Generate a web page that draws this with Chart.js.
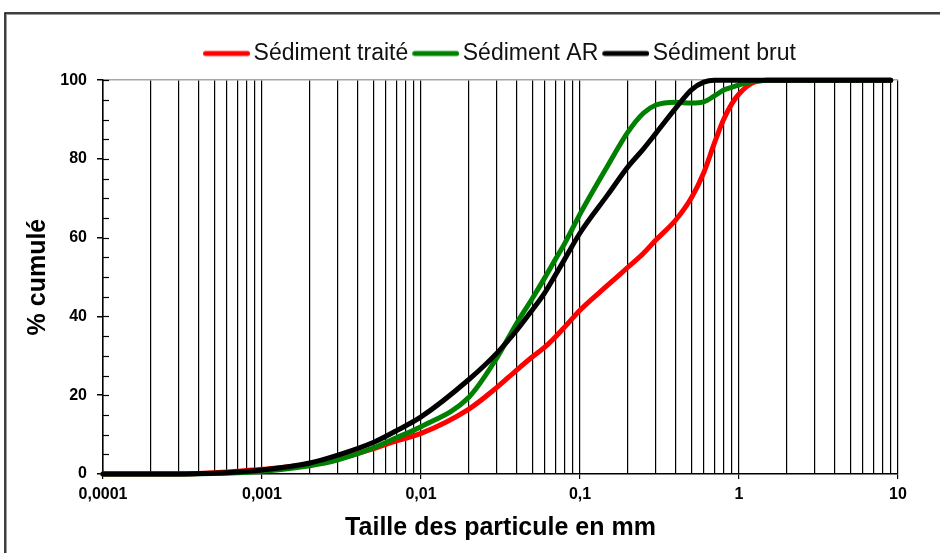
<!DOCTYPE html>
<html>
<head>
<meta charset="utf-8">
<script src="https://cdn.jsdelivr.net/npm/chart.js@4.4.1/dist/chart.umd.min.js"></script>
<style>
  html, body { margin: 0; padding: 0; background: #fff; }
  #wrap { width: 940px; height: 553px; }
</style>
</head>
<body>
<div id="wrap"><canvas id="granulo" width="940" height="553"></canvas></div>
<script>
// particle sizes (mm) and cumulative % for each sediment
const sizes = [0.0001, 0.0002, 0.0003, 0.0005, 0.0007, 0.001, 0.002, 0.003, 0.005, 0.007,
    0.01, 0.02, 0.03, 0.04, 0.05, 0.06, 0.07, 0.08, 0.1, 0.15,
    0.2, 0.25, 0.3, 0.4, 0.5, 0.6, 0.7, 0.8, 0.9, 1,
    1.2, 1.5, 2, 5, 9];
const sedTraite = [0, 0, 0, 0.3, 0.7, 1.2, 2.5, 3.8, 6.4, 8.4,
    10.3, 16.5, 22, 26.4, 29.7, 32.2, 34.8, 37.3, 41.6, 48,
    52.5, 56, 59.4, 64.5, 70, 76.5, 84, 90, 94, 96.5,
    99.2, 100, 100, 100, 100];
const sedAR = [0, 0, 0, 0.1, 0.3, 0.7, 2.1, 3.6, 6.6, 9.2,
    12, 19.5, 29.5, 38.3, 44.5, 49.8, 54.5, 58.5, 66, 78.4,
    86.8, 91.6, 93.7, 94.4, 94.2, 94.5, 96, 97.5, 98.2, 98.8,
    99.6, 100, 100, 100, 100];
const sedBrut = [0, 0, 0, 0.2, 0.5, 1, 2.8, 4.8, 8, 11,
    14.5, 24, 30.7, 36.5, 41.6, 46, 50.5, 54.5, 61.2, 71,
    78, 82.5, 86.5, 92.9, 97.5, 99.5, 100, 100, 100, 100,
    100, 100, 100, 100, 100];

const seriesNames = ['Sédiment traité', 'Sédiment AR', 'Sédiment brut'];
const seriesColors = ['#ff0000', '#008000', '#000000'];

const decades = [0.0001, 0.001, 0.01, 0.1, 1, 10];
const decadeLabels = ['0,0001', '0,001', '0,01', '0,1', '1', '10'];
const yLabelsEvery = 20;
const yStep = 5;

const FONT = "'Liberation Sans', Arial, sans-serif";

function toPoints(ys) {
    return sizes.map((s, i) => ({ x: s, y: ys[i] }));
}

function isDecade(v) {
    const l = Math.log10(v);
    return Math.abs(l - Math.round(l)) < 1e-9;
}

function decadeLabel(v) {
    for (let i = 0; i < decades.length; i++) {
        if (Math.abs(Math.log10(v) - Math.log10(decades[i])) < 1e-9) return decadeLabels[i];
    }
    return '';
}

// legend swatch: a short thick line, shifted right so it sits close to the text
function swatch(color) {
    const c = document.createElement('canvas');
    c.width = 53;
    c.height = 8;
    const g = c.getContext('2d');
    g.strokeStyle = color;
    g.lineWidth = 5;
    g.lineCap = 'round';
    g.beginPath();
    g.moveTo(8.5, 4);
    g.lineTo(50.5, 4);
    g.stroke();
    return c;
}

// outer frame + white background
const framePlugin = {
    id: 'frame',
    beforeDraw(chart) {
        const ctx = chart.ctx;
        ctx.save();
        ctx.fillStyle = '#fff';
        ctx.fillRect(0, 0, chart.width, chart.height);
        ctx.strokeStyle = '#9a9a9a';
        ctx.lineWidth = 1;
        ctx.strokeRect(6.5, 14.5, chart.width + 20, chart.height + 20);
        ctx.strokeStyle = '#000';
        ctx.lineWidth = 1.5;
        ctx.strokeRect(5, 13, chart.width + 20, chart.height + 20);
        ctx.restore();
    }
};

// small ticks on the inner side of the y axis
const innerTicks = {
    id: 'innerTicks',
    afterDatasetsDraw(chart) {
        const ctx = chart.ctx;
        const yScale = chart.scales.y;
        const left = chart.chartArea.left;
        ctx.save();
        ctx.strokeStyle = '#000';
        ctx.lineWidth = 1.2;
        yScale.ticks.forEach(t => {
            if (t.value === 0) return;
            const y = Math.round(yScale.getPixelForValue(t.value)) + 0.5;
            ctx.beginPath();
            ctx.moveTo(left, y);
            ctx.lineTo(left + 6, y);
            ctx.stroke();
        });
        ctx.restore();
    }
};

const ctx = document.getElementById('granulo').getContext('2d');
const granuloChart = new Chart(ctx, {
    type: 'line',
    data: {
        datasets: [
            { label: seriesNames[0], data: toPoints(sedTraite), borderColor: seriesColors[0], backgroundColor: seriesColors[0], pointStyle: swatch(seriesColors[0]), order: 3 },
            { label: seriesNames[1], data: toPoints(sedAR), borderColor: seriesColors[1], backgroundColor: seriesColors[1], pointStyle: swatch(seriesColors[1]), order: 2 },
            { label: seriesNames[2], data: toPoints(sedBrut), borderColor: seriesColors[2], backgroundColor: seriesColors[2], pointStyle: swatch(seriesColors[2]), order: 1 }
        ]
    },
    options: {
        responsive: false,
        animation: false,
        layout: { padding: { left: 10, right: 42, top: 36, bottom: 0 } },
        datasets: {
            line: {
                borderWidth: 5,
                pointRadius: 0,
                pointHoverRadius: 0,
                cubicInterpolationMode: 'monotone',
                borderCapStyle: 'round',
                borderJoinStyle: 'round',
                fill: false,
                clip: false
            }
        },
        scales: {
            x: {
                type: 'logarithmic',
                min: 0.0001,
                max: 10,
                afterBuildTicks(scale) {
                    const ticks = [];
                    for (let e = -4; e <= 0; e++) {
                        for (let m = 1; m <= 9; m++) {
                            ticks.push({ value: m * Math.pow(10, e) });
                        }
                    }
                    ticks.push({ value: 10 });
                    scale.ticks = ticks;
                },
                afterFit(scale) { scale.height = 79; },
                grid: {
                    color: '#000',
                    lineWidth: 1.2,
                    drawTicks: true,
                    tickLength: 5,
                    tickColor: c => (c.tick && isDecade(c.tick.value)) ? '#000' : 'rgba(0,0,0,0)'
                },
                border: { color: '#000', width: 1.5 },
                ticks: {
                    autoSkip: false,
                    maxRotation: 0,
                    padding: 6,
                    color: '#000',
                    font: { family: FONT, size: 16, weight: 'bold' },
                    callback: v => decadeLabel(v)
                },
                title: {
                    display: true,
                    text: 'Taille des particule en mm',
                    color: '#000',
                    font: { family: FONT, size: 25, weight: 'bold' },
                    padding: { top: 0, bottom: 10 }
                }
            },
            y: {
                min: 0,
                max: 100,
                afterFit(scale) { scale.width = 93; },
                grid: {
                    color: c => (c.tick && c.tick.value === 100) ? '#a6a6a6' : 'rgba(0,0,0,0)',
                    lineWidth: 1.5,
                    drawTicks: true,
                    tickLength: 6,
                    tickColor: c => (c.tick && c.tick.value % yLabelsEvery === 0) ? '#000' : 'rgba(0,0,0,0)'
                },
                border: { color: '#000', width: 1.5 },
                ticks: {
                    stepSize: yStep,
                    autoSkip: false,
                    padding: 10,
                    color: '#000',
                    font: { family: FONT, size: 16, weight: 'bold' },
                    callback: v => (v % yLabelsEvery === 0 ? v : '')
                },
                title: {
                    display: true,
                    text: '% cumulé',
                    color: '#000',
                    font: { family: FONT, size: 25, weight: 'bold' },
                    padding: { top: 13, bottom: 0 }
                }
            }
        },
        plugins: {
            legend: {
                display: true,
                position: 'top',
                fullSize: false,
                weight: 3000,
                labels: {
                    usePointStyle: true,
                    pointStyleWidth: 37,
                    padding: 6,
                    color: '#111',
                    font: { family: FONT, size: 23 },
                    sort: (a, b) => a.datasetIndex - b.datasetIndex
                }
            },
            // empty title used as a spacer between legend and plot
            title: {
                display: true,
                text: '',
                font: { size: 1 },
                padding: { top: 0, bottom: 4 }
            },
            tooltip: { enabled: false }
        }
    },
    plugins: [framePlugin, innerTicks]
});
</script>
</body>
</html>
